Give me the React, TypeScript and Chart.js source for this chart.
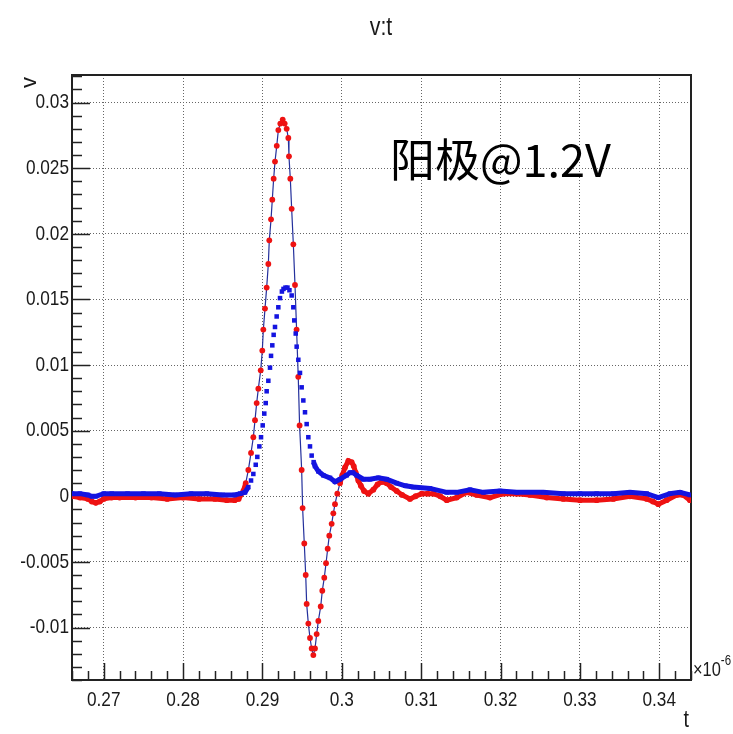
import React, { useEffect, useRef } from 'react';
import { Chart, registerables } from 'chart.js';

Chart.register(...registerables);

// ---- text ----
const chartTitle = 'v:t';
const xTitle = 't';
const yTitle = 'v';
const xExpBase = '\u00d710';
const xExpPow = '-6';
const annotation = '阳极@1.2V';

// ---- axes ----
const xMin = 0.266;
const xMax = 0.344;
const xStep = 0.01;
const xMinorStep = 0.002;
const yMin = -0.014;
const yMax = 0.0321;
const yStep = 0.005;
const yMinorStep = 0.001;

// ---- red series (t in 1e-6 s, v) ----
const redT = [
  0.2660, 0.2670, 0.2680, 0.2685, 0.2690, 0.2695, 0.2700, 0.2710, 0.2720, 0.2740,
  0.2760, 0.2780, 0.2800, 0.2820, 0.2840, 0.2855, 0.2865, 0.2870, 0.2876, 0.28789,
  0.28822, 0.28856, 0.28885, 0.28906, 0.28927, 0.28948, 0.28978, 0.28998, 0.29011, 0.29032,
  0.29053, 0.29074, 0.29086, 0.29108, 0.29124, 0.29141, 0.29158, 0.29180, 0.29200, 0.29225,
  0.29255, 0.29280, 0.29305, 0.29326, 0.29334, 0.29351, 0.29368, 0.29389, 0.29410, 0.29430,
  0.29451, 0.29468, 0.29494, 0.29506, 0.29527, 0.29545, 0.29557, 0.29578, 0.29599, 0.29620,
  0.29641, 0.29662, 0.29683, 0.29704, 0.29734, 0.29754, 0.29779, 0.29801, 0.29822, 0.29842,
  0.29872, 0.29893, 0.29914, 0.29943, 0.29977, 0.30006, 0.30040, 0.30082, 0.30124, 0.30150,
  0.30175, 0.30208, 0.30240, 0.30280, 0.30334, 0.30397, 0.30450, 0.30502, 0.30565, 0.30620,
  0.30691, 0.30760, 0.30859, 0.30930, 0.31006, 0.31080, 0.31153, 0.31240, 0.31322, 0.31448,
  0.31574, 0.31700, 0.31867, 0.32035, 0.32203, 0.32371, 0.32582, 0.32791, 0.33001, 0.33211,
  0.33421, 0.33631, 0.33842, 0.33920, 0.33988, 0.34093, 0.34219, 0.34303, 0.34387,
];
const redV = [
  0.0000, -0.0001, -0.0002, -0.0004, -0.0005, -0.0004, -0.0002, -0.0001, -0.0001, -0.0001,
  -0.0001, -0.0002, -0.0001, -0.0002, -0.0002, -0.0003, -0.0003, -0.0002, 0.0004, 0.0010,
  0.0020, 0.0033, 0.0045, 0.0058, 0.0071, 0.0082, 0.0096, 0.0111, 0.0127, 0.0143,
  0.0159, 0.0177, 0.0195, 0.0211, 0.0226, 0.0242, 0.0255, 0.0267, 0.0279, 0.0284,
  0.0287, 0.0284, 0.0280, 0.0273, 0.0259, 0.0242, 0.0219, 0.0192, 0.0161, 0.0127,
  0.0091, 0.0054, 0.0020, -0.0009, -0.0036, -0.0060, -0.0082, -0.0097, -0.0108, -0.0116,
  -0.0121, -0.0116, -0.0105, -0.0095, -0.0084, -0.0072, -0.0062, -0.0051, -0.0040, -0.0030,
  -0.0021, -0.0013, -0.0006, 0.0002, 0.0010, 0.0016, 0.0022, 0.0027, 0.0026, 0.0023,
  0.0018, 0.0012, 0.0008, 0.0004, 0.0002, 0.0005, 0.0009, 0.0011, 0.0010, 0.0007,
  0.0004, 0.0001, -0.0002, 0.0000, 0.0002, 0.0002, 0.0002, 0.0000, -0.0003, -0.0001,
  0.0003, 0.0001, -0.0001, 0.0002, 0.0002, 0.0001, -0.0001, -0.0002, -0.0003, -0.0003,
  -0.0002, 0.0000, -0.0002, -0.0004, -0.0006, -0.0003, 0.0001, 0.0001, -0.0003,
];

// ---- blue series ----
const blueT = [
  0.2660, 0.2670, 0.2680, 0.2685, 0.2690, 0.2700, 0.2710, 0.2730, 0.2750, 0.2770,
  0.2790, 0.2810, 0.2830, 0.2850, 0.2865, 0.2872, 0.28780, 0.28822, 0.28856, 0.28885,
  0.28915, 0.28935, 0.28961, 0.28982, 0.29003, 0.29023, 0.29041, 0.29053, 0.29074, 0.29095,
  0.29108, 0.29124, 0.29141, 0.29158, 0.29179, 0.29200, 0.29221, 0.29245, 0.29265, 0.29290,
  0.29315, 0.29340, 0.29368, 0.29389, 0.29401, 0.29419, 0.29431, 0.29452, 0.29473, 0.29494,
  0.29515, 0.29536, 0.29557, 0.29578, 0.29599, 0.29620, 0.29645, 0.29662, 0.29704, 0.29767,
  0.29851, 0.29914, 0.29977, 0.30061, 0.30103, 0.30140, 0.30187, 0.30271, 0.30355, 0.30460,
  0.30565, 0.30691, 0.30800, 0.30900, 0.31111, 0.31322, 0.31448, 0.31615, 0.31783, 0.31993,
  0.32203, 0.32539, 0.32791, 0.33001, 0.33211, 0.33421, 0.33631, 0.33842, 0.33988, 0.34135,
  0.34261, 0.34387,
];
const blueV = [
  0.0002, 0.0002, 0.0001, 0.0000, 0.0000, 0.0002, 0.0002, 0.0002, 0.0002, 0.0002,
  0.0001, 0.0002, 0.0002, 0.0001, 0.0001, 0.0002, 0.0003, 0.0007, 0.0012, 0.0017,
  0.0024, 0.0030, 0.0038, 0.0045, 0.0054, 0.0063, 0.0071, 0.0080, 0.0088, 0.0098,
  0.0107, 0.0115, 0.0123, 0.0129, 0.0137, 0.0144, 0.0151, 0.0156, 0.0158, 0.0159,
  0.0159, 0.0157, 0.0153, 0.0144, 0.0134, 0.0124, 0.0114, 0.0104, 0.0094, 0.0083,
  0.0073, 0.0064, 0.0055, 0.0045, 0.0038, 0.0031, 0.0026, 0.0023, 0.0019, 0.0016,
  0.0014, 0.0011, 0.0013, 0.0016, 0.0018, 0.0018, 0.0016, 0.0013, 0.0013, 0.0014,
  0.0013, 0.0010, 0.0008, 0.0007, 0.0006, 0.0003, 0.0003, 0.0005, 0.0003, 0.0004,
  0.0003, 0.0003, 0.0002, 0.0002, 0.0002, 0.0002, 0.0003, 0.0002, -0.0001, 0.0002,
  0.0003, 0.0001,
];

const RED = '#ee1212';
const BLUE = '#1414e0';
const THIN = '#24309c';
const TEXT = '#1a1a1a';
const SANS = "'Liberation Sans', Arial, sans-serif";
const SQUEEZE = 0.82;

const fmt = (v: number) => String(Math.round(v * 1e6) / 1e6);

function squeezedText(ctx: any, text: string, x: number, y: number, size: number, align: string, baseline = 'middle', sx = SQUEEZE) {
  ctx.save();
  ctx.translate(x, y);
  ctx.scale(sx, 1);
  ctx.font = `${size}px ${SANS}`;
  ctx.textAlign = align;
  ctx.textBaseline = baseline;
  ctx.fillText(text, 0, 0);
  const w = ctx.measureText(text).width * sx;
  ctx.restore();
  return w;
}

const decorPlugin = {
  id: 'rootDecor',
  beforeDatasetsDraw(chart: any) {
    const { ctx, chartArea } = chart;
    const xs = chart.scales.x;
    const ys = chart.scales.y;
    const { left, right, top, bottom } = chartArea;
    ctx.save();
    ctx.strokeStyle = '#222';
    ctx.lineWidth = 1.5;
    const yStart = Math.ceil(yMin / yMinorStep);
    const yEnd = Math.floor(yMax / yMinorStep);
    for (let i = yStart; i <= yEnd; i++) {
      const v = i * yMinorStep;
      const major = Math.abs(v / yStep - Math.round(v / yStep)) < 1e-6;
      const p = Math.round(ys.getPixelForValue(v)) + 0.5;
      ctx.beginPath();
      ctx.moveTo(left, p);
      ctx.lineTo(left + (major ? 18 : 10), p);
      ctx.stroke();
    }
    const xStart = Math.ceil(xMin / xMinorStep - 1e-9);
    const xEnd = Math.floor(xMax / xMinorStep + 1e-9);
    for (let i = xStart; i <= xEnd; i++) {
      const v = i * xMinorStep;
      const major = Math.abs(v / xStep - Math.round(v / xStep)) < 1e-6;
      const p = Math.round(xs.getPixelForValue(v)) + 0.5;
      ctx.beginPath();
      ctx.moveTo(p, bottom);
      ctx.lineTo(p, bottom - (major ? 17 : 9));
      ctx.stroke();
    }
    ctx.lineWidth = 2;
    ctx.strokeRect(left, top, right - left, bottom - top);
    ctx.restore();
  },
  afterDraw(chart: any) {
    const { ctx, chartArea } = chart;
    const xs = chart.scales.x;
    const ys = chart.scales.y;
    ctx.save();
    ctx.fillStyle = TEXT;
    // tick labels from the library's scales
    xs.ticks.forEach((t: any) => {
      squeezedText(ctx, fmt(t.value), xs.getPixelForValue(t.value), 700, 21, 'center');
    });
    ys.ticks.forEach((t: any) => {
      squeezedText(ctx, fmt(t.value), chartArea.left - 3, ys.getPixelForValue(t.value), 21, 'right');
    });
    // title
    squeezedText(ctx, chartTitle, 381, 28, 26, 'center');
    // x title
    squeezedText(ctx, xTitle, chartArea.right - 2, 720, 24, 'right');
    // y title (rotated)
    ctx.save();
    ctx.translate(30, chartArea.top + 2);
    ctx.rotate(-Math.PI / 2);
    squeezedText(ctx, yTitle, 0, 0, 22, 'right', 'middle', 1);
    ctx.restore();
    // exponent
    const w = squeezedText(ctx, xExpBase, chartArea.right + 2, 676, 20, 'left', 'alphabetic');
    squeezedText(ctx, xExpPow, chartArea.right + 2 + w, 665, 14, 'left', 'alphabetic');
    // annotation
    ctx.font = "45px 'Noto Sans CJK SC', sans-serif";
    ctx.textAlign = 'left';
    ctx.textBaseline = 'middle';
    ctx.fillStyle = '#000';
    ctx.fillText(annotation, 390, 160);
    ctx.restore();
  },
};

export default function App() {
  const ref = useRef<HTMLCanvasElement | null>(null);
  useEffect(() => {
    if (!ref.current) return;
    const redData = redT.map((t, i) => ({ x: t, y: redV[i] }));
    const blueData = blueT.map((t, i) => ({ x: t, y: blueV[i] }));
    // dense sample runs near the baseline look like a thick band of overlapping markers
    const redFlat = (c: any) =>
      Math.abs(c.p1.y - c.p0.y) <= 9 && Math.abs(redV[c.p0DataIndex]) < 0.004 && Math.abs(redV[c.p1DataIndex]) < 0.004;
    const blueFlat = (c: any) =>
      Math.abs(c.p1.y - c.p0.y) <= 6 && Math.abs(blueV[c.p0DataIndex]) < 0.003 && Math.abs(blueV[c.p1DataIndex]) < 0.003;
    const chart = new Chart(ref.current, {
      type: 'scatter',
      data: {
        datasets: [
          {
            label: 'blue',
            data: blueData,
            showLine: true,
            pointStyle: 'rect',
            pointRadius: 3.2,
            pointBorderWidth: 0,
            pointBackgroundColor: BLUE,
            borderColor: BLUE,
            borderWidth: 5,
            segment: {
              borderColor: (c: any) => (blueFlat(c) ? BLUE : 'rgba(0,0,0,0)'),
              borderWidth: (c: any) => (blueFlat(c) ? 5 : 1),
            },
          } as any,
          {
            label: 'red',
            data: redData,
            showLine: true,
            pointStyle: 'circle',
            pointRadius: 2.9,
            pointBorderWidth: 0,
            pointBackgroundColor: RED,
            borderColor: THIN,
            borderWidth: 1.2,
            segment: {
              borderColor: (c: any) => (redFlat(c) ? RED : THIN),
              borderWidth: (c: any) => (redFlat(c) ? 5 : 1.2),
            },
          } as any,
        ],
      },
      options: {
        animation: false,
        responsive: false,
        devicePixelRatio: 1,
        layout: { padding: { left: 0, right: 42, top: 75, bottom: 0 } },
        plugins: { legend: { display: false }, tooltip: { enabled: false }, title: { display: false } },
        scales: {
          x: {
            type: 'linear',
            min: xMin,
            max: xMax,
            border: { display: false, dash: [1, 2] },
            grid: { color: '#666', lineWidth: 1, drawTicks: false },
            ticks: { display: false, stepSize: xStep, includeBounds: false, autoSkip: false },
            afterFit: (s: any) => {
              s.height = 54;
            },
          },
          y: {
            type: 'linear',
            min: yMin,
            max: yMax,
            border: { display: false, dash: [1, 2] },
            grid: { color: '#666', lineWidth: 1, drawTicks: false },
            ticks: { display: false, stepSize: yStep, includeBounds: false, autoSkip: false },
            afterFit: (s: any) => {
              s.width = 72;
            },
          },
        },
      } as any,
      plugins: [decorPlugin],
    });
    return () => chart.destroy();
  }, []);
  return (
    <div style={{ position: 'absolute', left: 0, top: 0, width: 733, height: 734, background: '#fff' }}>
      <canvas ref={ref} width={733} height={734} style={{ width: 733, height: 734, display: 'block' }} />
    </div>
  );
}
